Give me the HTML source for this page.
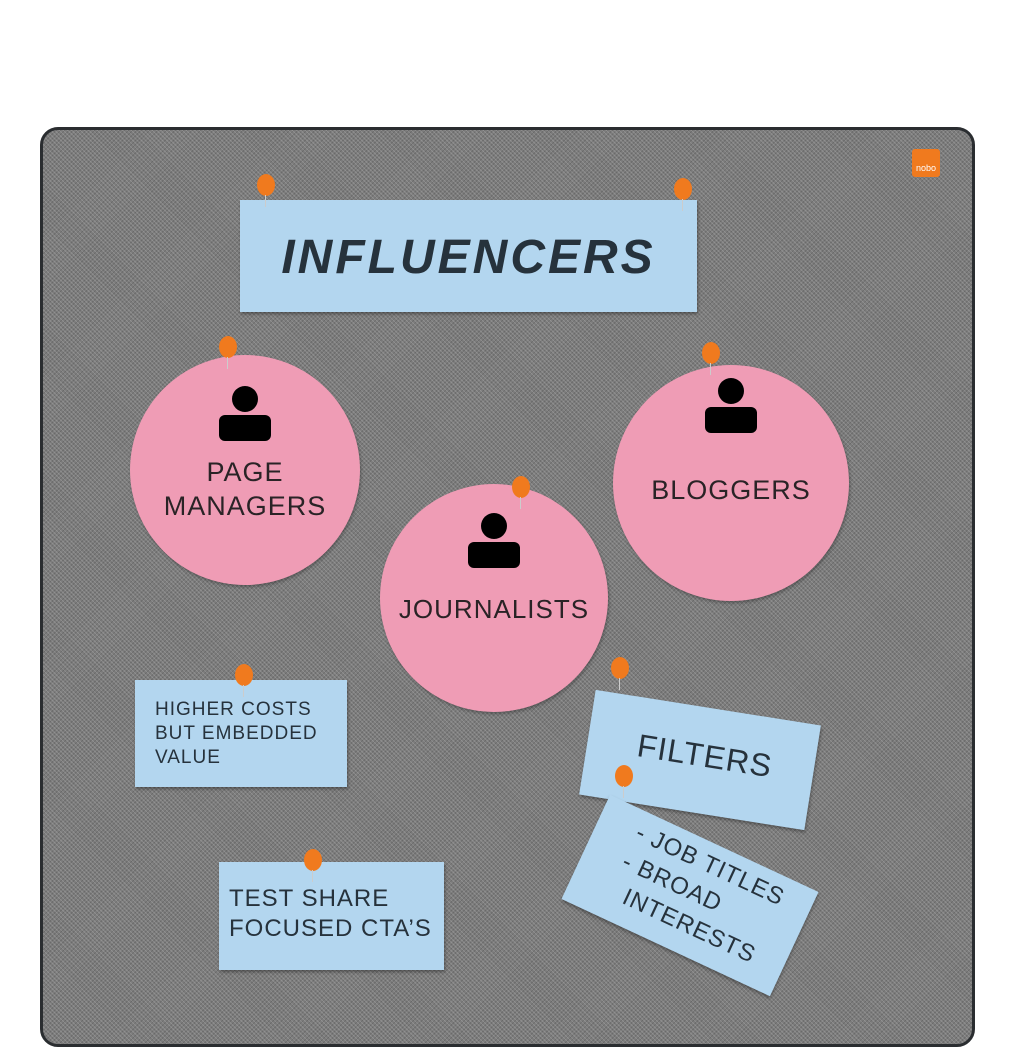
<!DOCTYPE html>
<html><head><meta charset="utf-8"><style>
html,body{margin:0;padding:0;background:#fff;}
body{width:1024px;height:1024px;position:relative;overflow:hidden;font-family:"Liberation Sans",sans-serif;}
.board{position:absolute;left:40px;top:127px;width:935px;height:920px;border-radius:18px;background:#7c7c7c;border:3px solid #2a2d30;box-sizing:border-box;
background-image:repeating-linear-gradient(45deg,rgba(255,255,255,.16) 0 1px,transparent 1px 3px),repeating-linear-gradient(-45deg,rgba(0,0,0,.15) 0 1px,transparent 1px 3px);}
.card{position:absolute;background:#b3d6ef;color:#26323c;box-shadow:1px 2px 3px rgba(0,0,0,.35);}
.circ{position:absolute;border-radius:50%;background:#ef9cb5;color:#2a2326;text-align:center;box-shadow:1px 2px 3px rgba(0,0,0,.3);}
.pin{position:absolute;width:18px;height:22px;border-radius:50%;background:#f07a1e;}
.pin:after{content:"";position:absolute;left:8px;top:21px;width:1px;height:12px;background:#ccc;}
.person{position:absolute;left:50%;transform:translateX(-50%);}
.t{position:absolute;font-weight:normal;letter-spacing:1px;}
</style></head><body>
<div class="board"></div>
<div style="position:absolute;left:912px;top:149px;width:28px;height:28px;background:#f07a1e;border-radius:3px;color:#fff;font-size:9px;line-height:38px;text-align:center;">nobo</div>

<div class="card" style="left:240px;top:200px;width:457px;height:112px;">
<div class="t" style="left:0;right:0;top:30px;text-align:center;font-size:48px;letter-spacing:3px;font-style:italic;font-weight:bold;">INFLUENCERS</div></div>

<div class="circ" style="left:130px;top:355px;width:230px;height:230px;">
<svg class="person" style="top:30px" width="60" height="56" viewBox="0 0 60 56"><circle cx="30" cy="14" r="13" fill="#000"/><rect x="4" y="30" width="52" height="26" rx="6" fill="#000"/></svg>
<div class="t" style="left:0;right:0;top:100px;font-size:27px;line-height:34px;">PAGE<br>MANAGERS</div></div>

<div class="circ" style="left:613px;top:365px;width:236px;height:236px;">
<svg class="person" style="top:12px" width="60" height="56" viewBox="0 0 60 56"><circle cx="30" cy="14" r="13" fill="#000"/><rect x="4" y="30" width="52" height="26" rx="6" fill="#000"/></svg>
<div class="t" style="left:0;right:0;top:110px;font-size:27px;">BLOGGERS</div></div>

<div class="circ" style="left:380px;top:484px;width:228px;height:228px;">
<svg class="person" style="top:28px" width="60" height="56" viewBox="0 0 60 56"><circle cx="30" cy="14" r="13" fill="#000"/><rect x="4" y="30" width="52" height="26" rx="6" fill="#000"/></svg>
<div class="t" style="left:0;right:0;top:110px;font-size:26px;">JOURNALISTS</div></div>

<div class="card" style="left:135px;top:680px;width:212px;height:107px;">
<div class="t" style="left:20px;top:18px;font-size:19px;line-height:24px;">HIGHER COSTS<br>BUT EMBEDDED<br>VALUE</div></div>

<div class="card" style="left:219px;top:862px;width:225px;height:108px;">
<div class="t" style="left:10px;top:22px;font-size:24px;line-height:30px;">TEST SHARE<br>FOCUSED CTA’S</div></div>

<div class="card" style="left:586px;top:707px;width:228px;height:106px;transform:rotate(9deg);">
<div class="t" style="left:50px;top:30px;font-size:32px;">FILTERS</div></div>

<div class="card" style="left:575px;top:838px;width:230px;height:115px;transform:rotate(25deg);">
<div class="t" style="left:40px;top:6px;font-size:24px;line-height:32px;">- JOB TITLES<br>- BROAD<br>&nbsp;&nbsp;INTERESTS</div></div>

<div class="pin" style="left:257px;top:174px"></div>
<div class="pin" style="left:674px;top:178px"></div>
<div class="pin" style="left:219px;top:336px"></div>
<div class="pin" style="left:702px;top:342px"></div>
<div class="pin" style="left:512px;top:476px"></div>
<div class="pin" style="left:235px;top:664px"></div>
<div class="pin" style="left:611px;top:657px"></div>
<div class="pin" style="left:615px;top:765px"></div>
<div class="pin" style="left:304px;top:849px"></div>
</body></html>
